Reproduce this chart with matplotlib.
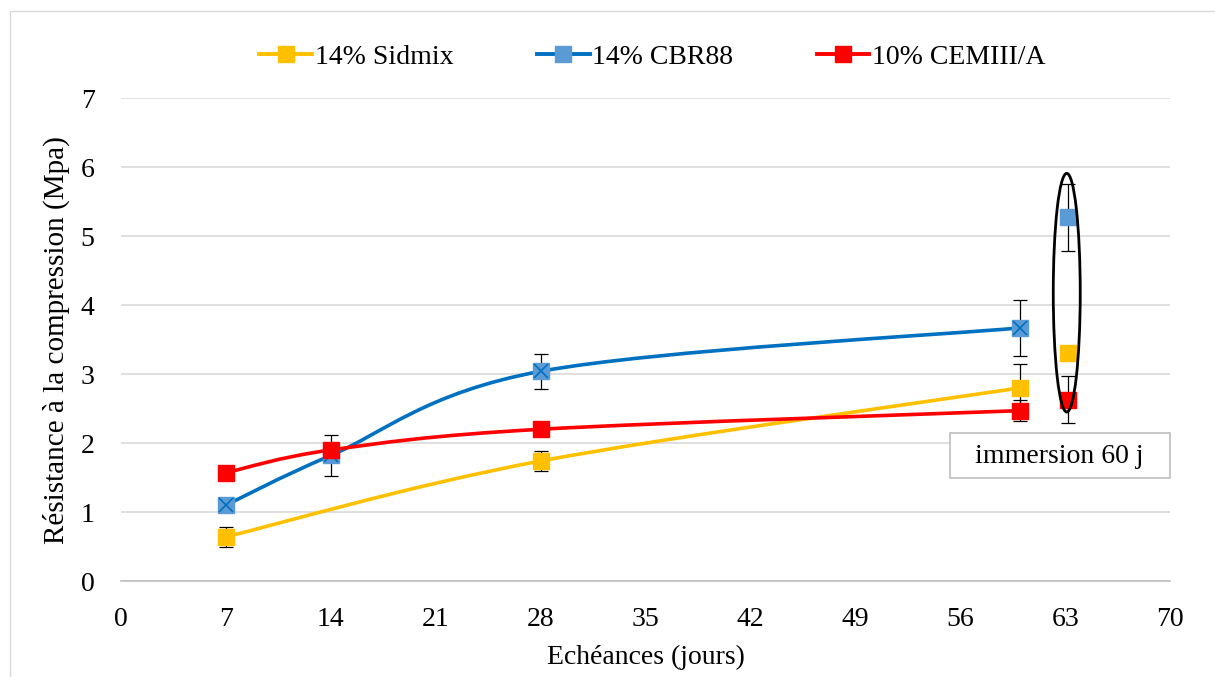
import numpy as np
import matplotlib
matplotlib.use("Agg")
from matplotlib import pyplot as plt
from matplotlib.path import Path
from matplotlib.patches import PathPatch, Ellipse, Rectangle

plt.rcParams['font.family'] = ['Liberation Serif', 'DejaVu Serif']

# data
sid_x = [7, 28, 60]
sid_y = [0.64, 1.74, 2.80]
sid_err = [0.15, 0.15, 0.35]

cbr_x = [7, 14, 28, 60]
cbr_y = [1.10, 1.82, 3.04, 3.67]
cbr_err = [0.0, 0.30, 0.25, 0.41]

cem_x = [7, 14, 28, 60]
cem_y = [1.57, 1.90, 2.20, 2.47]
cem_err = [0.0, 0.0, 0.0, 0.15]

# immersion 60 j (plotted at 63)
imm_x = 63.2
imm_y = [3.31, 5.27, 2.63]   # Sidmix, CBR88, CEMIII/A
imm_err = [0.0, 0.49, 0.34]

labels = ["14% Sidmix", "14% CBR88", "10% CEMIII/A"]

c_yel = "#FFC000"
c_blue = "#0070C0"
c_lblue = "#5B9BD5"
c_red = "#FF0000"


# excel style smoothed line (bezier through the points)
def smooth_path(xs, ys):
    p = np.column_stack([xs, ys]).astype(float)
    verts = [p[0]]
    codes = [Path.MOVETO]
    n = len(p)
    for i in range(n - 1):
        p0 = p[i - 1] if i > 0 else p[i]
        p3 = p[i + 2] if i + 2 < n else p[i + 1]
        c1 = p[i] + (p[i + 1] - p0) / 6.0
        c2 = p[i + 1] - (p3 - p[i]) / 6.0
        verts += [c1, c2, p[i + 1]]
        codes += [Path.CURVE4] * 3
    return Path(verts, codes)


fig = plt.figure(figsize=(12.15, 6.77), dpi=100)
ax = fig.add_axes([0.0996, 0.1418, 0.8635, 0.7132])

# chart area border
fig.patches.append(Rectangle((0.0082, -0.1), 1.1, 1.0838, transform=fig.transFigure,
                             fill=False, ec="#D9D9D9", lw=1.0))

for xs, ys, col in [(sid_x, sid_y, c_yel), (cbr_x, cbr_y, c_blue), (cem_x, cem_y, c_red)]:
    ax.add_patch(PathPatch(smooth_path(xs, ys), fc="none", ec=col, lw=2.6,
                           capstyle="round", zorder=3))

# error bars
ek = dict(fmt="none", ecolor="black", elinewidth=0.9, capsize=5, capthick=0.9, zorder=4)
ax.errorbar(sid_x, sid_y, yerr=sid_err, **ek)
ax.errorbar(cbr_x, cbr_y, yerr=cbr_err, **ek)
ax.errorbar(cem_x, cem_y, yerr=cem_err, **ek)
ax.errorbar([imm_x] * 3, imm_y, yerr=imm_err, **ek)

# markers
ax.plot(sid_x, sid_y, ls="none", marker="s", ms=11, mfc=c_yel, mec=c_yel, zorder=5)
ax.plot(cbr_x, cbr_y, ls="none", marker="s", ms=11, mfc=c_lblue, mec=c_lblue, zorder=5)
ax.plot(cbr_x, cbr_y, ls="none", marker="x", ms=10, mew=1.2, mec=c_blue, zorder=6)
ax.plot(cem_x, cem_y, ls="none", marker="s", ms=11, mfc=c_red, mec=c_red, zorder=7)
for yv, col in zip(imm_y, [c_yel, c_lblue, c_red]):
    ax.plot([imm_x], [yv], ls="none", marker="s", ms=11, mfc=col, mec=col, zorder=5)

ax.add_patch(Ellipse((63.1, 4.18), 1.8, 3.46, fill=False, ec="black", lw=2, zorder=8))

# legend handles
h1, = ax.plot([], [], color=c_yel, lw=2.8, marker="s", ms=11, mfc=c_yel, mec=c_yel)
h2, = ax.plot([], [], color=c_blue, lw=2.8, marker="s", ms=11, mfc=c_lblue, mec=c_lblue)
h3, = ax.plot([], [], color=c_red, lw=2.8, marker="s", ms=11, mfc=c_red, mec=c_red)
fig.legend([h1, h2, h3], labels,
           loc="center", bbox_to_anchor=(0.537, 0.916), ncol=3, frameon=False,
           fontsize=20, handlelength=1.9, handletextpad=0.1, columnspacing=3.0)

# immersion box
ax.add_patch(Rectangle((55.3, 1.49), 14.7, 0.65, fc="white", ec="#BFBFBF", lw=1.2,
                       zorder=9, clip_on=False))
ax.text(62.6, 1.80, "immersion 60 j", ha="center", va="center", fontsize=20, zorder=10)

ax.set_xlim(0, 70)
ax.set_ylim(0, 7)
ax.set_xticks(np.arange(0, 71, 7))
ax.set_yticks(np.arange(0, 8, 1))
ax.tick_params(length=0, labelsize=20)
ax.tick_params(axis="x", pad=19)
ax.tick_params(axis="y", pad=19)
ax.grid(axis="y", color="#D9D9D9", lw=1.2)
ax.set_axisbelow(True)
for s in ["top", "right", "left"]:
    ax.spines[s].set_visible(False)
ax.spines["bottom"].set_color("#BFBFBF")
ax.spines["bottom"].set_linewidth(1.2)

ax.set_xlabel("Echéances (jours)", fontsize=20)
ax.set_ylabel("Résistance à la compression (Mpa)", fontsize=21)
ax.xaxis.set_label_coords(0.5, -0.133)
ax.yaxis.set_label_coords(-0.0486, 0.5)

fig.savefig("out.png", dpi=100)
